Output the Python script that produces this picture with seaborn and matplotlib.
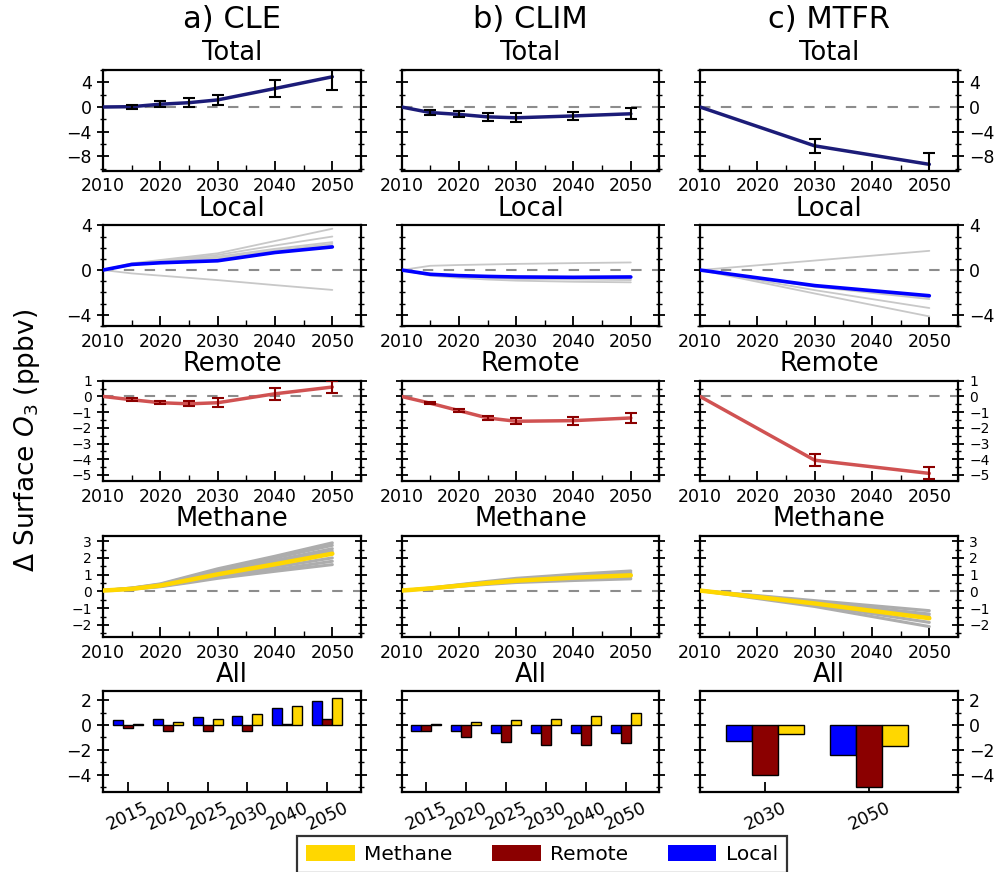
import matplotlib
matplotlib.use("Agg")
import matplotlib.pyplot as plt
import numpy as np
import pandas as pd
import seaborn as sns
from matplotlib.patches import Patch
from matplotlib.ticker import MultipleLocator

# ---------------- data ----------------
years_full = [2010, 2015, 2020, 2025, 2030, 2040, 2050]
years_mtfr = [2010, 2030, 2050]
scenarios = ["a) CLE", "b) CLIM", "c) MTFR"]
row_titles = ["Total", "Local", "Remote", "Methane", "All"]

# Total
total_cle = [0.0, 0.05, 0.45, 0.7, 1.15, 3.0, 4.9]
total_cle_err = [0.0, 0.35, 0.5, 0.75, 0.8, 1.3, 2.2]
total_clim = [0.0, -0.9, -1.2, -1.6, -1.75, -1.45, -1.1]
total_clim_err = [0.0, 0.4, 0.5, 0.6, 0.7, 0.65, 0.9]
total_mtfr = [0.0, -6.3, -9.3]
total_mtfr_err = [0.0, 1.1, 1.9]

# Local (blue = mean, grey = individual regions/models)
local_cle = [0.0, 0.5, 0.65, 0.74, 0.83, 1.57, 2.07]
local_cle_grey = [
    [0.0, 0.6, 0.9, 1.2, 1.5, 2.6, 3.7],
    [0.0, 0.55, 0.85, 1.1, 1.35, 2.2, 3.0],
    [0.0, 0.5, 0.8, 1.0, 1.2, 1.9, 2.5],
    [0.0, 0.5, 0.75, 0.95, 1.1, 1.75, 2.35],
    [0.0, 0.45, 0.7, 0.9, 1.0, 1.6, 2.2],
    [0.0, -0.3, -0.5, -0.7, -0.9, -1.35, -1.78],
]
local_clim = [0.0, -0.38, -0.5, -0.57, -0.62, -0.65, -0.62]
local_clim_grey = [
    [0.0, 0.38, 0.45, 0.5, 0.55, 0.62, 0.68],
    [0.0, -0.45, -0.6, -0.7, -0.8, -0.85, -0.9],
    [0.0, -0.5, -0.7, -0.85, -0.95, -1.05, -1.1],
    [0.0, -0.42, -0.55, -0.65, -0.72, -0.78, -0.8],
    [0.0, -0.35, -0.48, -0.55, -0.6, -0.62, -0.65],
]
local_mtfr = [0.0, -1.39, -2.3]
local_mtfr_grey = [
    [0.0, 0.85, 1.72],
    [0.0, -1.5, -2.6],
    [0.0, -1.8, -3.4],
    [0.0, -2.1, -4.15],
    [0.0, -1.45, -2.45],
]

# Remote
remote_cle = [0.0, -0.21, -0.4, -0.47, -0.4, 0.17, 0.6]
remote_cle_err = [0.0, 0.1, 0.1, 0.15, 0.3, 0.37, 0.4]
remote_clim = [0.0, -0.43, -0.9, -1.37, -1.58, -1.54, -1.37]
remote_clim_err = [0.0, 0.05, 0.08, 0.12, 0.2, 0.25, 0.3]
remote_mtfr = [0.0, -4.06, -4.9]
remote_mtfr_err = [0.0, 0.38, 0.38]

# Methane
methane_cle = [0.05, 0.15, 0.35, 0.68, 1.02, 1.62, 2.25]
methane_cle_grey = [
    [0.05, 0.2, 0.45, 0.9, 1.35, 2.1, 2.9],
    [0.05, 0.2, 0.42, 0.85, 1.28, 2.0, 2.75],
    [0.05, 0.18, 0.4, 0.8, 1.2, 1.85, 2.55],
    [0.05, 0.17, 0.38, 0.75, 1.1, 1.75, 2.4],
    [0.05, 0.15, 0.33, 0.62, 0.92, 1.45, 2.0],
    [0.05, 0.14, 0.3, 0.57, 0.85, 1.3, 1.8],
    [0.05, 0.13, 0.28, 0.52, 0.78, 1.2, 1.6],
]
methane_clim = [0.05, 0.18, 0.34, 0.5, 0.64, 0.82, 0.96]
methane_clim_grey = [
    [0.05, 0.2, 0.4, 0.6, 0.78, 1.02, 1.22],
    [0.05, 0.19, 0.37, 0.55, 0.7, 0.92, 1.1],
    [0.05, 0.17, 0.32, 0.46, 0.58, 0.74, 0.88],
    [0.05, 0.16, 0.3, 0.42, 0.53, 0.65, 0.75],
]
methane_mtfr = [0.05, -0.72, -1.6]
methane_mtfr_grey = [
    [0.05, -0.55, -1.15],
    [0.05, -0.62, -1.35],
    [0.05, -0.8, -1.85],
    [0.05, -0.9, -2.1],
    [0.05, -0.68, -1.5],
]

# All (bar charts)
bar_years_full = ["2015", "2020", "2025", "2030", "2040", "2050"]
bar_years_mtfr = ["2030", "2050"]
components = ["Local", "Remote", "Methane"]
bar_local_cle = [0.38, 0.51, 0.62, 0.76, 1.35, 1.95]
bar_remote_cle = [-0.27, -0.49, -0.49, -0.49, 0.1, 0.5]
bar_methane_cle = [0.1, 0.24, 0.51, 0.87, 1.5, 2.2]
bar_local_clim = [-0.49, -0.49, -0.62, -0.62, -0.62, -0.62]
bar_remote_clim = [-0.49, -0.98, -1.38, -1.65, -1.65, -1.49]
bar_methane_clim = [0.1, 0.27, 0.38, 0.49, 0.73, 0.97]
bar_local_mtfr = [-1.29, -2.41]
bar_remote_mtfr = [-4.05, -4.96]
bar_methane_mtfr = [-0.7, -1.69]

# ---------------- style ----------------
sns.set_style("white")
plt.rcParams["font.family"] = ["DejaVu Sans"]
plt.rcParams["mathtext.fontset"] = "dejavusans"
for k in ["text.color", "axes.labelcolor", "xtick.color", "ytick.color"]:
    plt.rcParams[k] = "black"

C_TOTAL = "#1c1c78"
C_LOCAL = "#0000ff"
C_REMOTE = "#d05252"
C_REMOTE_ERR = "#8b0000"
C_METH = "#ffd700"
C_GREY_LOCAL = "#c8c8c8"
C_GREY_METH = "#adadad"
BAR_PAL = {"Local": "#0000ff", "Remote": "#8b0000", "Methane": "#ffd700"}

fig, axes = plt.subplots(5, 3, figsize=(9.94, 8.72), dpi=100)
fig.subplots_adjust(left=103 / 994, right=958 / 994, top=1 - 70 / 872,
                    bottom=1 - 792 / 872, wspace=0.157, hspace=0.546)

ylims = [(-10.3, 6), (-5, 4), (-5.4, 1), (-2.7, 3.3), (-5.4, 2.7)]
ymajor = [4, 4, 1, 1, 2]
yminor = [2, 1, 0.5, 0.5, 1]
ylabsize = [12.5, 12.5, 10.0, 10.0, 12.5]


def style_axis(ax, col, row, line=True):
    for s in ax.spines.values():
        s.set_linewidth(1.6)
        s.set_color("black")
    ax.set_ylim(*ylims[row])
    ax.yaxis.set_major_locator(MultipleLocator(ymajor[row]))
    ax.yaxis.set_minor_locator(MultipleLocator(yminor[row]))
    ax.tick_params(axis="y", which="major", direction="inout", length=9, width=1.3,
                   left=True, right=True, labelsize=ylabsize[row], colors="black",
                   labelleft=(col == 0), labelright=(col == 2))
    ax.tick_params(axis="y", which="minor", direction="inout", length=5, width=1.0,
                   left=True, right=True)
    ax.tick_params(axis="x", which="major", direction="in", length=7, width=1.3,
                   bottom=True, top=False, labelsize=12.5, colors="black", pad=5)
    if line:
        ax.set_xlim(2010, 2055)
        ax.xaxis.set_major_locator(MultipleLocator(10))
        ax.xaxis.set_minor_locator(MultipleLocator(5))
        ax.tick_params(axis="x", which="minor", direction="in", length=4, width=1.0,
                       bottom=True, top=False)
        ax.axhline(0, color="0.55", ls=(0, (5, 5)), lw=1.5, zorder=1)
    ax.set_xlabel("")
    ax.set_ylabel("")
    ax.set_title(row_titles[row], fontsize=18.5, pad=7)


def draw_err_line(ax, years, vals, errs, color, ecolor, lw):
    sns.lineplot(x=years, y=vals, color=color, lw=lw, ax=ax, zorder=3)
    ax.errorbar(years[1:], vals[1:], yerr=errs[1:], fmt="none", ecolor=ecolor,
                elinewidth=1.5, capsize=4, capthick=1.5, zorder=4)


def draw_spaghetti(ax, years, mean, greys, gcolor, glw, mcolor, mlw):
    for g in greys:
        sns.lineplot(x=years, y=g, color=gcolor, lw=glw, ax=ax, zorder=2)
    sns.lineplot(x=years, y=mean, color=mcolor, lw=mlw, ax=ax, zorder=3)


def draw_bars(ax, cats, loc, rem, meth):
    df = pd.DataFrame({
        "year": cats * 3,
        "component": ["Local"] * len(cats) + ["Remote"] * len(cats) + ["Methane"] * len(cats),
        "value": loc + rem + meth,
    })
    sns.barplot(data=df, x="year", y="value", hue="component", hue_order=components,
                order=cats, palette=BAR_PAL, width=0.75, saturation=1,
                edgecolor="black", linewidth=1.0, legend=False, ax=ax, zorder=3)
    n = len(cats)
    ax.set_xlim(-0.625, n - 1 + 0.85)
    ax.tick_params(axis="x", labelrotation=25)
    for lab in ax.get_xticklabels():
        lab.set_ha("center")


totals = [(years_full, total_cle, total_cle_err), (years_full, total_clim, total_clim_err),
          (years_mtfr, total_mtfr, total_mtfr_err)]
locals_ = [(years_full, local_cle, local_cle_grey), (years_full, local_clim, local_clim_grey),
           (years_mtfr, local_mtfr, local_mtfr_grey)]
remotes = [(years_full, remote_cle, remote_cle_err), (years_full, remote_clim, remote_clim_err),
           (years_mtfr, remote_mtfr, remote_mtfr_err)]
methanes = [(years_full, methane_cle, methane_cle_grey), (years_full, methane_clim, methane_clim_grey),
            (years_mtfr, methane_mtfr, methane_mtfr_grey)]
bars = [(bar_years_full, bar_local_cle, bar_remote_cle, bar_methane_cle),
        (bar_years_full, bar_local_clim, bar_remote_clim, bar_methane_clim),
        (bar_years_mtfr, bar_local_mtfr, bar_remote_mtfr, bar_methane_mtfr)]

for col in range(3):
    ax = axes[0, col]
    y, v, e = totals[col]
    draw_err_line(ax, y, v, e, C_TOTAL, "black", 2.5)
    style_axis(ax, col, 0)

    ax = axes[1, col]
    y, m, g = locals_[col]
    draw_spaghetti(ax, y, m, g, C_GREY_LOCAL, 1.3, C_LOCAL, 2.6)
    style_axis(ax, col, 1)

    ax = axes[2, col]
    y, v, e = remotes[col]
    draw_err_line(ax, y, v, e, C_REMOTE, C_REMOTE_ERR, 2.5)
    style_axis(ax, col, 2)

    ax = axes[3, col]
    y, m, g = methanes[col]
    draw_spaghetti(ax, y, m, g, C_GREY_METH, 2.2, C_METH, 3.2)
    style_axis(ax, col, 3)

    ax = axes[4, col]
    c, l, r, mth = bars[col]
    draw_bars(ax, c, l, r, mth)
    style_axis(ax, col, 4, line=False)

    pos = axes[0, col].get_position()
    fig.text((pos.x0 + pos.x1) / 2, 1 - 19 / 872, scenarios[col], fontsize=22,
             ha="center", va="center")

fig.text(27 / 994, 1 - 440 / 872, r"$\Delta$ Surface $O_3$ (ppbv)", fontsize=19,
         rotation=90, ha="center", va="center")

handles = [Patch(facecolor=C_METH, edgecolor="none"),
           Patch(facecolor="#8b0000", edgecolor="none"),
           Patch(facecolor="#0000ff", edgecolor="none")]
leg = fig.legend(handles, ["Methane", "Remote", "Local"], loc="upper center",
                 bbox_to_anchor=(542 / 994, 1 - 836 / 872), ncol=3, fontsize=14.5,
                 frameon=True, fancybox=False, handlelength=2.4, handleheight=0.8,
                 handletextpad=0.45, columnspacing=2.0, borderaxespad=0.0,
                 borderpad=0.45)
leg.get_frame().set_edgecolor("black")
leg.get_frame().set_linewidth(1.6)

fig.savefig("out.png", dpi=100)
